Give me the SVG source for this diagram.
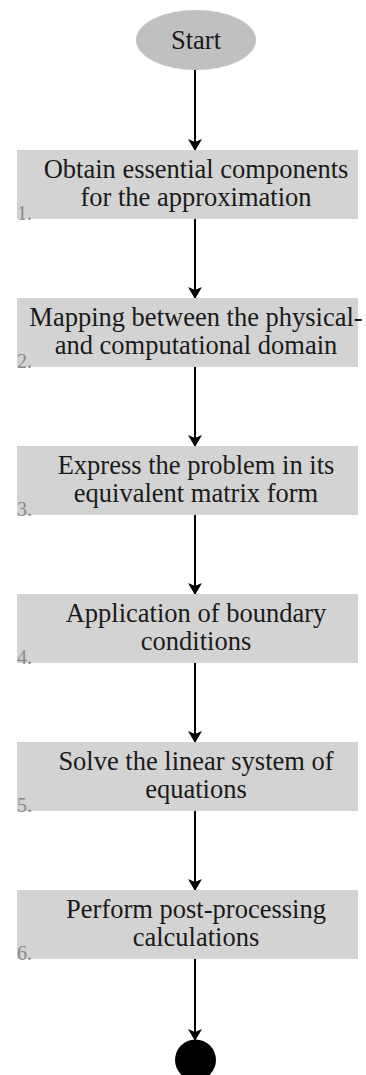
<svg xmlns="http://www.w3.org/2000/svg" width="366" height="1075" viewBox="0 0 366 1075">
<defs>
<style>
.box{fill:#d3d3d3;}
.t{font-size:26.5px;fill:#1a1a1a;text-anchor:middle;}
.n{font-size:20px;fill:#8a8a8a;}
.c{stroke:#000;stroke-width:2;fill:none;}
</style>
<marker id="ah" viewBox="0 0 12 14" refX="12" refY="7" markerWidth="12" markerHeight="14" markerUnits="userSpaceOnUse" orient="auto">
<path d="M0,0 L12,7 L0,14 L3,7 Z" fill="#000"/>
</marker>
</defs>
<g id="connectors">
<line class="c" x1="195" y1="70" x2="195" y2="151" marker-end="url(#ah)"/>
<line class="c" x1="195" y1="219" x2="195" y2="299" marker-end="url(#ah)"/>
<line class="c" x1="195" y1="367" x2="195" y2="447" marker-end="url(#ah)"/>
<line class="c" x1="195" y1="515" x2="195" y2="595" marker-end="url(#ah)"/>
<line class="c" x1="195" y1="663" x2="195" y2="743" marker-end="url(#ah)"/>
<line class="c" x1="195" y1="811" x2="195" y2="891" marker-end="url(#ah)"/>
<line class="c" x1="195" y1="959" x2="195" y2="1041" marker-end="url(#ah)"/>
</g>
<g font-family="Liberation Serif, DejaVu Serif, serif">
<g id="start">
<ellipse cx="196" cy="40" rx="60" ry="30" fill="#c0c0c0"/>
<text class="t" x="196" y="49">Start</text>
</g>
<g id="step1">
<rect class="box" x="17" y="150" width="341" height="69"/>
<text class="t" x="196" y="178">Obtain essential components</text>
<text class="t" x="196" y="206">for the approximation</text>
<text class="n" x="17" y="220">1.</text>
</g>
<g id="step2">
<rect class="box" x="17" y="298" width="341" height="69"/>
<text class="t" x="196" y="326">Mapping between the physical-</text>
<text class="t" x="196" y="354">and computational domain</text>
<text class="n" x="17" y="368">2.</text>
</g>
<g id="step3">
<rect class="box" x="17" y="446" width="341" height="69"/>
<text class="t" x="196" y="474">Express the problem in its</text>
<text class="t" x="196" y="502">equivalent matrix form</text>
<text class="n" x="17" y="516">3.</text>
</g>
<g id="step4">
<rect class="box" x="17" y="594" width="341" height="69"/>
<text class="t" x="196" y="622">Application of boundary</text>
<text class="t" x="196" y="650">conditions</text>
<text class="n" x="17" y="664">4.</text>
</g>
<g id="step5">
<rect class="box" x="17" y="742" width="341" height="69"/>
<text class="t" x="196" y="770">Solve the linear system of</text>
<text class="t" x="196" y="798">equations</text>
<text class="n" x="17" y="812">5.</text>
</g>
<g id="step6">
<rect class="box" x="17" y="890" width="341" height="69"/>
<text class="t" x="196" y="918">Perform post-processing</text>
<text class="t" x="196" y="946">calculations</text>
<text class="n" x="17" y="960">6.</text>
</g>
</g>
<g id="end">
<circle cx="195.5" cy="1060" r="20.5" fill="#000"/>
</g>
</svg>
